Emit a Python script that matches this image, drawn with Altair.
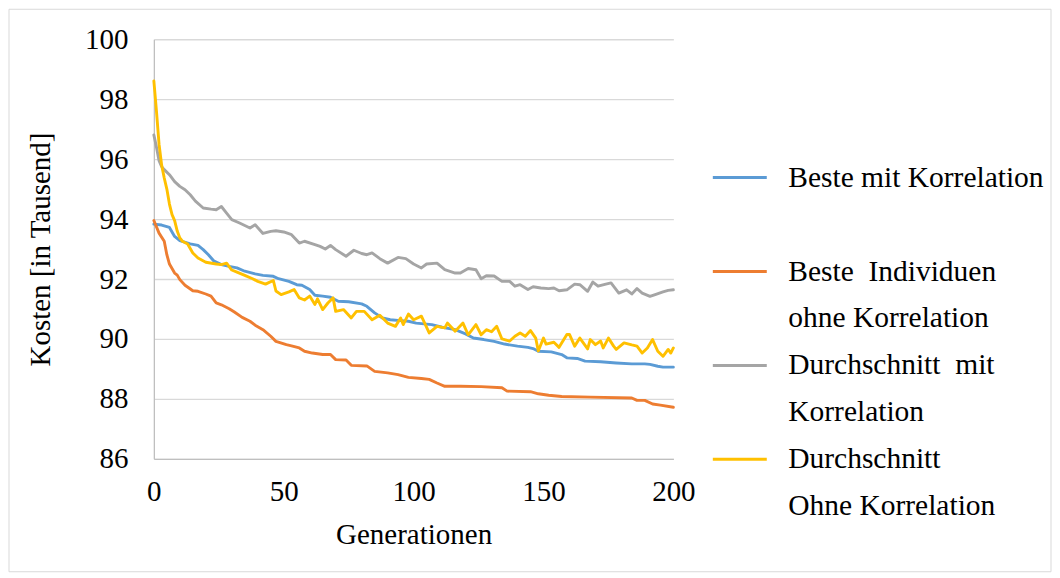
import altair as alt
import pandas as pd

# ---- data ----
gray_x = [0, 1, 2, 3, 4, 6, 8, 10, 12, 14, 16, 19, 22, 24, 26, 28, 30, 33, 37, 39, 42, 45, 47, 50,
          53, 56, 58, 62, 64, 66, 68, 70, 74, 77, 80, 82, 84, 87, 90, 94, 97, 100, 103, 105, 109,
          112, 116, 118, 121, 124, 126, 128, 131, 134, 137, 139, 141, 144, 146, 149, 152, 154, 156,
          159, 162, 164, 167, 169, 171, 174, 176, 179, 182, 184, 186, 188, 191, 193, 196, 198, 200]
gray_y = [96.81, 96.4, 95.95, 95.75, 95.65, 95.48, 95.25, 95.09, 94.98, 94.81, 94.6, 94.37, 94.33,
          94.31, 94.42, 94.2, 93.98, 93.87, 93.70, 93.81, 93.52, 93.59, 93.61, 93.57, 93.48, 93.2,
          93.26, 93.15, 93.09, 93.0, 93.12, 92.98, 92.76, 92.96, 92.85, 92.81, 92.87, 92.68, 92.53,
          92.72, 92.68, 92.5, 92.37, 92.5, 92.53, 92.31, 92.2, 92.2, 92.35, 92.31, 92.01, 92.11,
          92.1, 91.92, 91.92, 91.76, 91.81, 91.65, 91.74, 91.7, 91.68, 91.7, 91.61, 91.64, 91.83,
          91.81, 91.59, 91.9, 91.76, 91.83, 91.87, 91.53, 91.64, 91.5, 91.68, 91.53, 91.42, 91.48,
          91.57, 91.62, 91.64]

yellow_x = [0, 1, 2, 3, 4, 5, 6, 7, 8, 9, 10, 11, 13, 15, 17, 20, 24, 26, 28, 30, 32, 35, 38, 40,
            43, 44, 46, 47, 49, 52, 54, 56, 58, 60, 62, 63, 65, 67, 69, 70, 73, 76, 78, 81, 84, 87,
            90, 93, 95, 96, 98, 100, 103, 106, 109, 112, 113, 116, 119, 121, 124, 126, 128, 130,
            132, 134, 137, 139, 141, 143, 145, 147, 148, 150, 151, 154, 156, 159, 160, 162, 164,
            167, 168, 170, 172, 173, 175, 177, 178, 181, 184, 186, 188, 190, 192, 194, 196, 198,
            199, 200]
yellow_y = [98.61, 97.6, 96.5, 95.8, 95.37, 95.0, 94.5, 94.15, 93.95, 93.6, 93.37, 93.26, 93.17,
            92.87, 92.7, 92.56, 92.5, 92.48, 92.53, 92.3, 92.23, 92.12, 92.01, 91.92, 91.83, 91.87,
            91.95, 91.6, 91.48, 91.57, 91.65, 91.37, 91.3, 91.43, 91.15, 91.34, 90.98, 91.2, 91.37,
            90.92, 90.98, 90.7, 90.92, 90.92, 90.64, 90.79, 90.53, 90.42, 90.7, 90.48, 90.83, 90.64,
            90.76, 90.2, 90.42, 90.37, 90.53, 90.26, 90.53, 90.14, 90.48, 90.14, 90.31, 90.24,
            90.42, 90.0, 89.93, 90.09, 90.2, 90.09, 90.28, 90.03, 89.6, 90.03, 89.83, 89.89, 89.72,
            90.15, 90.15, 89.76, 90.03, 89.67, 89.98, 89.81, 89.93, 89.7, 90.03, 89.76, 89.65,
            89.87, 89.8, 89.76, 89.53, 89.7, 89.98, 89.59, 89.42, 89.65, 89.53, 89.7]

blue_x = [0, 3, 6, 8, 10, 14, 17, 19, 21, 23, 26, 29, 32, 35, 39, 42, 46, 48, 52, 55, 57, 60, 62,
          65, 68, 71, 75, 80, 82, 85, 88, 91, 95, 98, 101, 107, 111, 116, 120, 123, 127, 131, 135,
          140, 144, 146, 148, 153, 157, 159, 163, 166, 172, 178, 184, 189, 191, 194, 196, 200]
blue_y = [93.83, 93.8, 93.72, 93.42, 93.28, 93.17, 93.12, 92.98, 92.81, 92.61, 92.48, 92.42, 92.37,
          92.26, 92.17, 92.12, 92.09, 92.01, 91.92, 91.81, 91.79, 91.65, 91.46, 91.43, 91.39, 91.26,
          91.24, 91.17, 91.09, 90.87, 90.7, 90.64, 90.61, 90.59, 90.53, 90.48, 90.39, 90.31, 90.17,
          90.03, 89.98, 89.92, 89.83, 89.76, 89.72, 89.68, 89.59, 89.57, 89.48, 89.37, 89.35, 89.26,
          89.24, 89.2, 89.17, 89.17, 89.15, 89.09, 89.06, 89.06]

orange_x = [0, 2, 4, 5, 6, 8, 9, 10, 12, 15, 17, 20, 22, 24, 26, 29, 31, 34, 37, 39, 42, 45, 47,
            51, 53, 56, 58, 61, 65, 68, 70, 74, 76, 82, 85, 90, 94, 98, 103, 106, 109, 112, 118,
            126, 134, 136, 145, 148, 152, 157, 168, 184, 186, 189, 192, 195, 200]
orange_y = [93.95, 93.53, 93.26, 92.81, 92.5, 92.2, 92.13, 91.98, 91.79, 91.61, 91.59, 91.5, 91.43,
            91.2, 91.14, 91.01, 90.9, 90.72, 90.59, 90.46, 90.31, 90.09, 89.92, 89.81, 89.77, 89.7,
            89.59, 89.53, 89.48, 89.48, 89.31, 89.3, 89.12, 89.1, 88.92, 88.87, 88.81, 88.72, 88.68,
            88.65, 88.53, 88.42, 88.42, 88.41, 88.37, 88.26, 88.24, 88.17, 88.12, 88.08, 88.06,
            88.03, 87.95, 87.95, 87.83, 87.79, 87.72]

# legend rows (first line of each entry carries the colour, continuation lines are blank)
legend_labels = ["Beste mit Korrelation", "\u00a0",
                 "Beste\u00a0 Individuen", "ohne Korrelation",
                 "Durchschnitt\u00a0 mit", "Korrelation",
                 "Durchschnitt", "Ohne Korrelation"]
legend_colors = ["#5B9BD5", "transparent", "#ED7D31", "transparent",
                 "#A5A5A5", "transparent", "#FFC000", "transparent"]

x_ticks = [0, 50, 100, 150, 200]
y_ticks = [86, 88, 90, 92, 94, 96, 98, 100]

series = [
    (legend_labels[0], blue_x, blue_y, 0),
    (legend_labels[2], orange_x, orange_y, 1),
    (legend_labels[4], gray_x, gray_y, 2),
    (legend_labels[6], yellow_x, yellow_y, 3),
]
rows = []
for name, xs, ys, k in series:
    for x, y in zip(xs, ys):
        rows.append({"gen": x, "cost": y, "series": name, "k": k})
df = pd.DataFrame(rows)

FONT = "Liberation Serif"

lines = alt.Chart(df).mark_line(strokeWidth=2.9, strokeJoin="round", strokeCap="round").encode(
    x=alt.X("gen:Q",
            scale=alt.Scale(domain=[0, 200], nice=False),
            axis=alt.Axis(values=x_ticks, title="Generationen", grid=False, ticks=False,
                          labelFlush=False, labelPadding=19, titlePadding=14,
                          domainColor="#bfbfbf", domainWidth=1.3)),
    y=alt.Y("cost:Q",
            scale=alt.Scale(domain=[86, 100], nice=False, zero=False),
            axis=alt.Axis(values=y_ticks, title="Kosten [in Tausend]", grid=True,
                          gridColor="#d9d9d9", gridWidth=1.3, ticks=False, labelPadding=26,
                          labelFlush=False, titlePadding=29, domainColor="#bfbfbf",
                          domainWidth=1.3)),
    color=alt.Color("series:N",
                    scale=alt.Scale(domain=legend_labels, range=legend_colors),
                    legend=alt.Legend(title=None, orient="none", legendX=558, legendY=110,
                                      symbolType="stroke", symbolSize=2916,
                                      symbolStrokeWidth=3, labelFont=FONT, labelFontSize=29.5,
                                      labelColor="black", labelOffset=20, labelLimit=400,
                                      rowPadding=4)),
    detail="k:N",
)

frame = alt.Chart(pd.DataFrame({"a": [0]})).mark_rect(
    filled=False, stroke="#d9d9d9", strokeWidth=1
).encode(x=alt.value(-145), x2=alt.value(898), y=alt.value(-30), y2=alt.value(533))

chart = alt.layer(frame, lines).properties(
    width=520, height=420, padding=8, background="white"
).configure_view(stroke=None).configure_axis(
    labelFont=FONT, labelFontSize=29, labelColor="black",
    titleFont=FONT, titleFontSize=29, titleFontWeight="normal", titleColor="black",
)

chart.save("out.html", embed_options={"renderer": "svg", "actions": False})
